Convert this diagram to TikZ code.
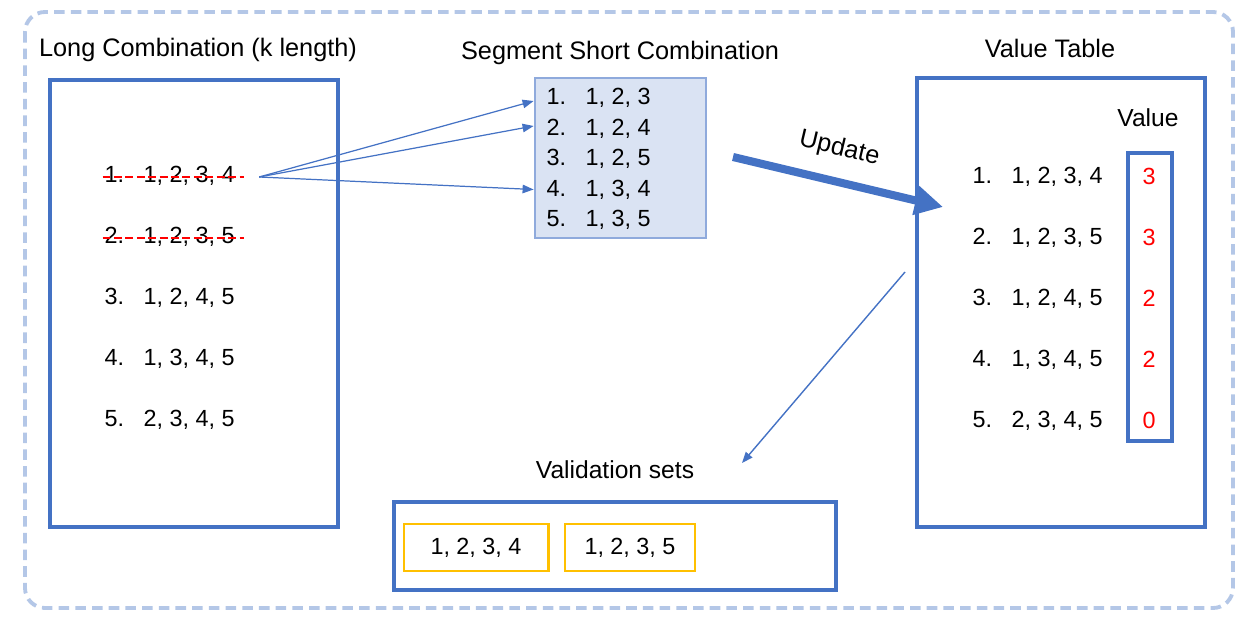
\documentclass[tikz,border=0pt]{standalone}
\usepackage{fontspec}
\setmainfont{Liberation Sans}
\usetikzlibrary{arrows.meta, positioning}
\definecolor{boxBlue}{HTML}{4472C4}
\definecolor{shortLine}{HTML}{8FAADC}
\definecolor{shortFill}{HTML}{DAE3F3}
\definecolor{frameBlue}{HTML}{B4C7E7}
\definecolor{setYellow}{HTML}{FFC000}
\newcommand{\combo}[2]{\makebox[0.78cm][l]{#1}#2}
\tikzstyle{outerFrame} = [draw=frameBlue, line width=2.2pt, rounded corners=0.4cm, dash pattern=on 6pt off 3.5pt]
\tikzstyle{titleText} = [font=\fontsize{14.4}{17}\selectfont]
\tikzstyle{labelText} = [font=\fontsize{14}{17}\selectfont]
\tikzstyle{entry} = [inner sep=1pt, font=\fontsize{13.3}{16}\selectfont]
\tikzstyle{scoreText} = [inner sep=1pt, text=red, font=\fontsize{13.3}{16}\selectfont]
\tikzstyle{bigBox} = [rectangle, minimum width=5.76cm, minimum height=8.94cm, draw=boxBlue, line width=2pt]
\tikzstyle{shortBox} = [rectangle, minimum width=3.42cm, minimum height=3.2cm, draw=shortLine, fill=shortFill, line width=1.6pt]
\tikzstyle{valueColumn} = [rectangle, minimum width=0.88cm, minimum height=5.76cm, draw=boxBlue, line width=1.8pt]
\tikzstyle{setFrame} = [rectangle, minimum width=8.84cm, minimum height=1.76cm, draw=boxBlue, line width=2pt]
\tikzstyle{setBox} = [rectangle, minimum height=0.94cm, draw=setYellow, line width=1.7pt, font=\fontsize{13.3}{16}\selectfont]
\tikzstyle{strike} = [draw=red, line width=1.1pt, dash pattern=on 4.5pt off 2pt]
\tikzstyle{thinArrow} = [draw=boxBlue, line width=0.7pt, -{Triangle[length=0.22cm,width=0.17cm]}]
\tikzstyle{updateArrow} = [draw=boxBlue, line width=4.6pt, -{Triangle[length=0.56cm,width=0.56cm]}]

\begin{document}
\begin{tikzpicture}[node distance=1.22cm]
\useasboundingbox (0,0) rectangle (24.94,-12.48);

\draw [outerFrame] (0.5,-0.24) rectangle (24.66,-12.16);

% long combinations
\node (longTitle) [titleText] at (3.96,-1.0) {Long Combination (k length)};
\node (longBox) [bigBox] at (3.88,-6.07) {};
\node (long1) [entry, anchor=west] at (2.05,-3.51) {\combo{1.}{1, 2, 3, 4}};
\node (long2) [entry, below of=long1] {\combo{2.}{1, 2, 3, 5}};
\node (long3) [entry, below of=long2] {\combo{3.}{1, 2, 4, 5}};
\node (long4) [entry, below of=long3] {\combo{4.}{1, 3, 4, 5}};
\node (long5) [entry, below of=long4] {\combo{5.}{2, 3, 4, 5}};
\draw [strike] ([yshift=-0.03cm]long1.west) -- ([xshift=0.15cm,yshift=-0.03cm]long1.east);
\draw [strike] ([yshift=-0.03cm]long2.west) -- ([xshift=0.15cm,yshift=-0.03cm]long2.east);

% short combinations
\node (shortTitle) [titleText] at (12.4,-1.06) {Segment Short Combination};
\node (shortBox) [shortBox] at (12.41,-3.16) {};
\node (seg1) [entry, anchor=west] at (10.89,-1.96) {\combo{1.}{1, 2, 3}};
\node (seg2) [entry, below of=seg1, yshift=0.61cm] {\combo{2.}{1, 2, 4}};
\node (seg3) [entry, below of=seg2, yshift=0.61cm] {\combo{3.}{1, 2, 5}};
\node (seg4) [entry, below of=seg3, yshift=0.61cm] {\combo{4.}{1, 3, 4}};
\node (seg5) [entry, below of=seg4, yshift=0.61cm] {\combo{5.}{1, 3, 5}};

\coordinate (fanOut) at ([xshift=0.45cm,yshift=-0.03cm]long1.east);
\draw [thinArrow] (fanOut) -- ([yshift=-0.06cm]shortBox.west |- seg1);
\draw [thinArrow] (fanOut) -- ([yshift=0.05cm]shortBox.west |- seg2);
\draw [thinArrow] (fanOut) -- (shortBox.west |- seg4);

% value table
\node (valueTitle) [titleText] at (21.0,-0.96) {Value Table};
\node (valueBox) [bigBox, minimum height=8.98cm] at (21.22,-6.05) {};
\node (valueHead) [labelText] at (22.96,-2.36) {Value};
\node (valueCol) [valueColumn] at (23.0,-5.94) {};
\node (row1) [entry, anchor=west] at (19.41,-3.53) {\combo{1.}{1, 2, 3, 4}};
\node (row2) [entry, below of=row1] {\combo{2.}{1, 2, 3, 5}};
\node (row3) [entry, below of=row2] {\combo{3.}{1, 2, 4, 5}};
\node (row4) [entry, below of=row3] {\combo{4.}{1, 3, 4, 5}};
\node (row5) [entry, below of=row4] {\combo{5.}{2, 3, 4, 5}};
\node (score1) [scoreText] at (22.98,-3.53) {3};
\node (score2) [scoreText, below of=score1] {3};
\node (score3) [scoreText, below of=score2] {2};
\node (score4) [scoreText, below of=score3] {2};
\node (score5) [scoreText, below of=score4] {0};

\coordinate (updateFrom) at (14.66,-3.14);
\coordinate (updateTo) at (18.86,-4.14);
\draw [updateArrow] (updateFrom) -- node[titleText, sloped, above=0.22cm, pos=0.47] {Update} (updateTo);

% validation sets
\node (validTitle) [labelText] at (12.3,-9.4) {Validation sets};
\node (validBox) [setFrame] at (12.3,-10.92) {};
\node (set1) [setBox, minimum width=2.88cm] at (9.52,-10.95) {1, 2, 3, 4};
\node (set2) [setBox, minimum width=2.6cm, right=0.28cm of set1] {1, 2, 3, 5};

\coordinate (pickFrom) at (18.1,-5.44);
\coordinate (pickTo) at (14.84,-9.26);
\draw [thinArrow, line width=0.8pt] (pickFrom) -- (pickTo);
\end{tikzpicture}
\end{document}
